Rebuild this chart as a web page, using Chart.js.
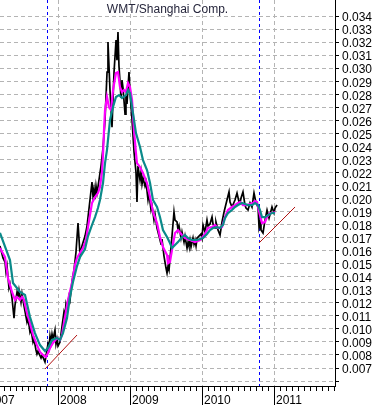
<!DOCTYPE html>
<html>
<head>
<meta charset="utf-8">
<script src="https://cdn.jsdelivr.net/npm/chart.js@4"></script>
<style>
  html, body { margin: 0; padding: 0; background: #fff; overflow: hidden; }
  #wrap { position: absolute; left: -14px; top: 0; width: 389px; height: 405px; }
</style>
</head>
<body>
<div id="wrap"><canvas id="myChart"></canvas></div>
<script>
const title = 'WMT/Shanghai Comp.';
const xMin = 2007.0;
const xMax = 2011.847;
const yMin = 0.00562;
const yMax = 0.03523;
const yearTicks = [2007, 2008, 2009, 2010, 2011];
const yTicks = [0.006, 0.007, 0.008, 0.009, 0.010, 0.011, 0.012, 0.013, 0.014, 0.015,
  0.016, 0.017, 0.018, 0.019, 0.020, 0.021, 0.022, 0.023, 0.024, 0.025,
  0.026, 0.027, 0.028, 0.029, 0.030, 0.031, 0.032, 0.033, 0.034];
const markerYears = [2007.843, 2010.796];

// daily ratio (black)
const ratioYears = [2007.194, 2007.236, 2007.264, 2007.278, 2007.292, 2007.319, 2007.333, 2007.361, 2007.389, 2007.403,
  2007.431, 2007.444, 2007.458, 2007.486, 2007.500, 2007.528, 2007.569, 2007.583, 2007.611, 2007.625,
  2007.653, 2007.667, 2007.694, 2007.708, 2007.722, 2007.764, 2007.778, 2007.819, 2007.833, 2007.861,
  2007.875, 2007.889, 2007.903, 2007.917, 2007.931, 2007.958, 2007.972, 2007.986, 2008.000, 2008.028,
  2008.056, 2008.083, 2008.097, 2008.111, 2008.125, 2008.153, 2008.167, 2008.194, 2008.222, 2008.250,
  2008.278, 2008.306, 2008.333, 2008.375, 2008.403, 2008.444, 2008.472, 2008.486, 2008.500, 2008.514,
  2008.528, 2008.542, 2008.569, 2008.597, 2008.625, 2008.653, 2008.681, 2008.694, 2008.722, 2008.750,
  2008.778, 2008.806, 2008.819, 2008.833, 2008.847, 2008.875, 2008.889, 2008.903, 2008.931, 2008.944,
  2008.958, 2008.986, 2009.000, 2009.028, 2009.056, 2009.083, 2009.097, 2009.111, 2009.139, 2009.153,
  2009.167, 2009.181, 2009.208, 2009.222, 2009.250, 2009.264, 2009.292, 2009.306, 2009.333, 2009.347,
  2009.375, 2009.417, 2009.431, 2009.444, 2009.472, 2009.500, 2009.514, 2009.528, 2009.542, 2009.583,
  2009.611, 2009.625, 2009.653, 2009.667, 2009.681, 2009.708, 2009.722, 2009.750, 2009.764, 2009.792,
  2009.806, 2009.819, 2009.833, 2009.847, 2009.875, 2009.889, 2009.903, 2009.917, 2009.931, 2009.958,
  2009.986, 2010.000, 2010.014, 2010.042, 2010.069, 2010.083, 2010.111, 2010.139, 2010.153, 2010.181,
  2010.194, 2010.222, 2010.250, 2010.278, 2010.306, 2010.333, 2010.375, 2010.389, 2010.417, 2010.458,
  2010.486, 2010.514, 2010.528, 2010.542, 2010.569, 2010.597, 2010.611, 2010.639, 2010.667, 2010.694,
  2010.722, 2010.750, 2010.778, 2010.792, 2010.806, 2010.819, 2010.847, 2010.875, 2010.903, 2010.931,
  2010.972, 2011.000, 2011.014, 2011.042];
const ratioValues = [0.01636, 0.01544, 0.01513, 0.01436, 0.01482, 0.01314, 0.01344, 0.01237, 0.01083, 0.01183,
  0.01283, 0.01245, 0.01298, 0.01206, 0.01268, 0.01176, 0.01053, 0.01083, 0.00976, 0.00999,
  0.00899, 0.00922, 0.00838, 0.00807, 0.00830, 0.00777, 0.00800, 0.00746, 0.00792, 0.00884,
  0.00853, 0.00945, 0.00899, 0.00961, 0.00922, 0.00991, 0.00884, 0.00922, 0.00869, 0.00899,
  0.01022, 0.01130, 0.01099, 0.01191, 0.01160, 0.01252, 0.01222, 0.01360, 0.01452, 0.01590,
  0.01812, 0.01567, 0.01636, 0.01712, 0.01789, 0.01989, 0.02127, 0.02019, 0.02073, 0.01996,
  0.02096, 0.02042, 0.02142, 0.02249, 0.02387, 0.02602, 0.02970, 0.03200, 0.02832, 0.02548,
  0.02970, 0.03216, 0.03062, 0.03277, 0.03016, 0.02771, 0.02909, 0.02848, 0.02648, 0.02786,
  0.02725, 0.02970, 0.02817, 0.02602, 0.02357, 0.02203, 0.01973, 0.02249, 0.02142, 0.02203,
  0.02111, 0.02157, 0.02096, 0.02127, 0.01989, 0.02035, 0.01912, 0.01943, 0.01835, 0.01881,
  0.01774, 0.01682, 0.01651, 0.01689, 0.01559, 0.01467, 0.01429, 0.01482, 0.01452, 0.01712,
  0.01897, 0.01835, 0.01820, 0.01758, 0.01789, 0.01697, 0.01743, 0.01666, 0.01712, 0.01620,
  0.01666, 0.01636, 0.01682, 0.01628, 0.01697, 0.01651, 0.01682, 0.01636, 0.01697, 0.01712,
  0.01728, 0.01697, 0.01797, 0.01743, 0.01835, 0.01789, 0.01805, 0.01858, 0.01805, 0.01774,
  0.01820, 0.01758, 0.01720, 0.01820, 0.01897, 0.01958, 0.02050, 0.01973, 0.01935, 0.01989,
  0.02042, 0.01973, 0.01966, 0.02004, 0.02050, 0.01950, 0.01927, 0.01912, 0.01966, 0.01935,
  0.02042, 0.01966, 0.01935, 0.01781, 0.01820, 0.01758, 0.01736, 0.01835, 0.01912, 0.01850,
  0.01935, 0.01889, 0.01927, 0.01950];

// short moving average (magenta)
const fastYears = [2007.194, 2007.264, 2007.305, 2007.361, 2007.403, 2007.430, 2007.472, 2007.500, 2007.528, 2007.569,
  2007.611, 2007.653, 2007.708, 2007.750, 2007.792, 2007.833, 2007.861, 2007.889, 2007.930, 2007.986,
  2008.028, 2008.055, 2008.097, 2008.139, 2008.194, 2008.236, 2008.264, 2008.305, 2008.347, 2008.389,
  2008.417, 2008.444, 2008.472, 2008.514, 2008.555, 2008.583, 2008.611, 2008.625, 2008.639, 2008.653,
  2008.680, 2008.708, 2008.736, 2008.764, 2008.805, 2008.833, 2008.861, 2008.889, 2008.917, 2008.944,
  2008.972, 2009.000, 2009.028, 2009.055, 2009.083, 2009.097, 2009.139, 2009.180, 2009.236, 2009.278,
  2009.319, 2009.375, 2009.416, 2009.458, 2009.514, 2009.527, 2009.555, 2009.583, 2009.625, 2009.666,
  2009.722, 2009.764, 2009.833, 2009.902, 2009.972, 2010.041, 2010.083, 2010.139, 2010.180, 2010.222,
  2010.278, 2010.319, 2010.361, 2010.416, 2010.458, 2010.500, 2010.528, 2010.569, 2010.625, 2010.666,
  2010.708, 2010.736, 2010.764, 2010.778, 2010.805, 2010.833, 2010.875, 2010.902, 2010.944, 2010.986,
  2011.014];
const fastValues = [0.01620, 0.01551, 0.01390, 0.01283, 0.01222, 0.01245, 0.01222, 0.01245, 0.01222, 0.01122,
  0.01045, 0.00953, 0.00876, 0.00823, 0.00800, 0.00784, 0.00815, 0.00853, 0.00892, 0.00930,
  0.00915, 0.00953, 0.01091, 0.01222, 0.01352, 0.01490, 0.01544, 0.01582, 0.01620, 0.01682,
  0.01781, 0.01873, 0.01966, 0.02012, 0.02042, 0.02088, 0.02203, 0.02334, 0.02525, 0.02679,
  0.02779, 0.02702, 0.02679, 0.02832, 0.02963, 0.02970, 0.02855, 0.02817, 0.02832, 0.02817,
  0.02886, 0.02855, 0.02756, 0.02525, 0.02349, 0.02272, 0.02242, 0.02196, 0.02119, 0.02012,
  0.01897, 0.01812, 0.01705, 0.01628, 0.01567, 0.01505, 0.01513, 0.01605, 0.01736, 0.01758,
  0.01720, 0.01697, 0.01682, 0.01666, 0.01682, 0.01728, 0.01774, 0.01781, 0.01797, 0.01774,
  0.01781, 0.01858, 0.01912, 0.01935, 0.01950, 0.01966, 0.01973, 0.01950, 0.01950, 0.01958,
  0.01966, 0.01981, 0.01973, 0.01935, 0.01873, 0.01812, 0.01820, 0.01858, 0.01889, 0.01889,
  0.01897];

// long moving average (teal)
const slowYears = [2007.194, 2007.333, 2007.375, 2007.472, 2007.542, 2007.611, 2007.680, 2007.750, 2007.819, 2007.861,
  2007.916, 2007.986, 2008.028, 2008.069, 2008.125, 2008.166, 2008.208, 2008.264, 2008.305, 2008.375,
  2008.417, 2008.472, 2008.514, 2008.555, 2008.583, 2008.625, 2008.653, 2008.680, 2008.722, 2008.764,
  2008.805, 2008.847, 2008.889, 2008.944, 2008.972, 2009.000, 2009.041, 2009.083, 2009.139, 2009.180,
  2009.236, 2009.278, 2009.319, 2009.375, 2009.416, 2009.458, 2009.514, 2009.555, 2009.583, 2009.625,
  2009.666, 2009.722, 2009.764, 2009.805, 2009.861, 2009.930, 2010.014, 2010.069, 2010.111, 2010.152,
  2010.208, 2010.250, 2010.291, 2010.319, 2010.361, 2010.416, 2010.458, 2010.500, 2010.555, 2010.597,
  2010.639, 2010.694, 2010.736, 2010.777, 2010.805, 2010.833, 2010.875, 2010.916, 2010.972, 2011.014];
const slowValues = [0.01736, 0.01528, 0.01352, 0.01283, 0.01260, 0.01091, 0.00968, 0.00876, 0.00830, 0.00853,
  0.00915, 0.00930, 0.00915, 0.00968, 0.01083, 0.01245, 0.01360, 0.01482, 0.01551, 0.01613,
  0.01712, 0.01797, 0.01858, 0.01927, 0.01989, 0.02119, 0.02272, 0.02372, 0.02602, 0.02702,
  0.02779, 0.02794, 0.02771, 0.02794, 0.02832, 0.02809, 0.02656, 0.02502, 0.02395, 0.02295,
  0.02219, 0.02119, 0.01989, 0.01935, 0.01858, 0.01758, 0.01705, 0.01659, 0.01620, 0.01643,
  0.01666, 0.01705, 0.01720, 0.01697, 0.01682, 0.01682, 0.01697, 0.01728, 0.01758, 0.01774,
  0.01781, 0.01774, 0.01797, 0.01850, 0.01889, 0.01912, 0.01935, 0.01950, 0.01966, 0.01958,
  0.01950, 0.01950, 0.01966, 0.01950, 0.01912, 0.01858, 0.01858, 0.01873, 0.01889, 0.01889];

// hand drawn support lines (red)
const trend1Years = [2007.819, 2008.264];
const trend1Values = [0.00692, 0.00953];
const trend2Years = [2010.792, 2011.292];
const trend2Values = [0.01659, 0.01935];

const font = { family: '"Liberation Sans", Arial, sans-serif', size: 12 };
const isYear = v => Math.abs(v - Math.round(v)) < 1e-6;
const toPoints = (xs, ys) => xs.map((x, i) => ({ x: x, y: ys[i] }));

const monthTicks = [];
yearTicks.forEach(y => {
  for (let m = 0; m < 12; m++) {
    const v = y + m / 12;
    if (v >= xMin && v <= xMax) monthTicks.push(v);
  }
});

const overlay = {
  id: 'overlay',
  beforeDatasetsDraw(chart) {
    const { ctx, chartArea: a, scales: { x } } = chart;
    ctx.save();
    ctx.strokeStyle = '#0000ff';
    ctx.lineWidth = 1;
    ctx.setLineDash([3, 3]);
    markerYears.forEach(t => {
      const px = Math.round(x.getPixelForValue(t)) + 0.5;
      ctx.beginPath();
      ctx.moveTo(px, a.top);
      ctx.lineTo(px, a.bottom);
      ctx.stroke();
    });
    ctx.restore();
  },
  afterDraw(chart) {
    const { ctx, chartArea: a, scales: { x } } = chart;
    ctx.save();
    ctx.strokeStyle = '#000';
    ctx.lineWidth = 1;
    yearTicks.forEach(t => {
      const px = Math.round(x.getPixelForValue(t)) + 0.5;
      ctx.beginPath();
      ctx.moveTo(px, a.bottom);
      ctx.lineTo(px, chart.height);
      ctx.stroke();
    });
    ctx.fillStyle = '#26263c';
    ctx.font = '12px "Liberation Sans", Arial, sans-serif';
    ctx.textAlign = 'center';
    ctx.textBaseline = 'middle';
    ctx.fillText(title, (a.left + a.right) / 2 + 7, 10);
    ctx.restore();
  }
};

const ctx = document.getElementById('myChart');
new Chart(ctx, {
  type: 'line',
  data: {
    datasets: [
      { data: toPoints(trend1Years, trend1Values), borderColor: '#b01010', borderWidth: 1, order: 0 },
      { data: toPoints(trend2Years, trend2Values), borderColor: '#b01010', borderWidth: 1, order: 0 },
      { data: toPoints(slowYears, slowValues), borderColor: '#0b8a8a', borderWidth: 2.2, order: 1 },
      { data: toPoints(fastYears, fastValues), borderColor: '#ff00ff', borderWidth: 2.2, order: 2 },
      { data: toPoints(ratioYears, ratioValues), borderColor: '#000000', borderWidth: 1.7, order: 3 }
    ]
  },
  options: {
    responsive: true,
    maintainAspectRatio: false,
    animation: false,
    layout: { padding: 0 },
    elements: { point: { radius: 0 }, line: { tension: 0 } },
    plugins: { legend: { display: false }, tooltip: { enabled: false } },
    scales: {
      x: {
        type: 'linear',
        min: xMin,
        max: xMax,
        afterBuildTicks: s => { s.ticks = monthTicks.map(v => ({ value: v })); },
        afterFit: s => { s.height = 19; s.paddingLeft = 0; s.paddingRight = 0; },
        ticks: {
          autoSkip: false,
          maxRotation: 0,
          align: 'start',
          padding: 2,
          labelOffset: 2,
          color: '#000',
          font: font,
          callback: v => isYear(v) ? String(Math.round(v)) : ''
        },
        grid: {
          color: c => (c.tick && isYear(c.tick.value)) ? '#b4b4b4' : 'rgba(0,0,0,0)',
          tickColor: '#000',
          tickLength: 5
        },
        border: { color: '#000', width: 1, dash: [4, 3] }
      },
      y: {
        position: 'right',
        min: yMin,
        max: yMax,
        afterBuildTicks: s => { s.ticks = yTicks.map(v => ({ value: v })); },
        afterFit: s => { s.width = 40; s.paddingTop = 0; s.paddingBottom = 0; },
        ticks: {
          autoSkip: false,
          padding: 3,
          labelOffset: 2,
          color: '#000',
          font: font,
          callback: v => v > 0.0065 ? v.toFixed(3) : ''
        },
        grid: { color: '#b4b4b4', tickColor: '#000', tickLength: 4 },
        border: { color: '#000', width: 1, dash: [4, 3] }
      }
    }
  },
  plugins: [overlay]
});
</script>
</body>
</html>
